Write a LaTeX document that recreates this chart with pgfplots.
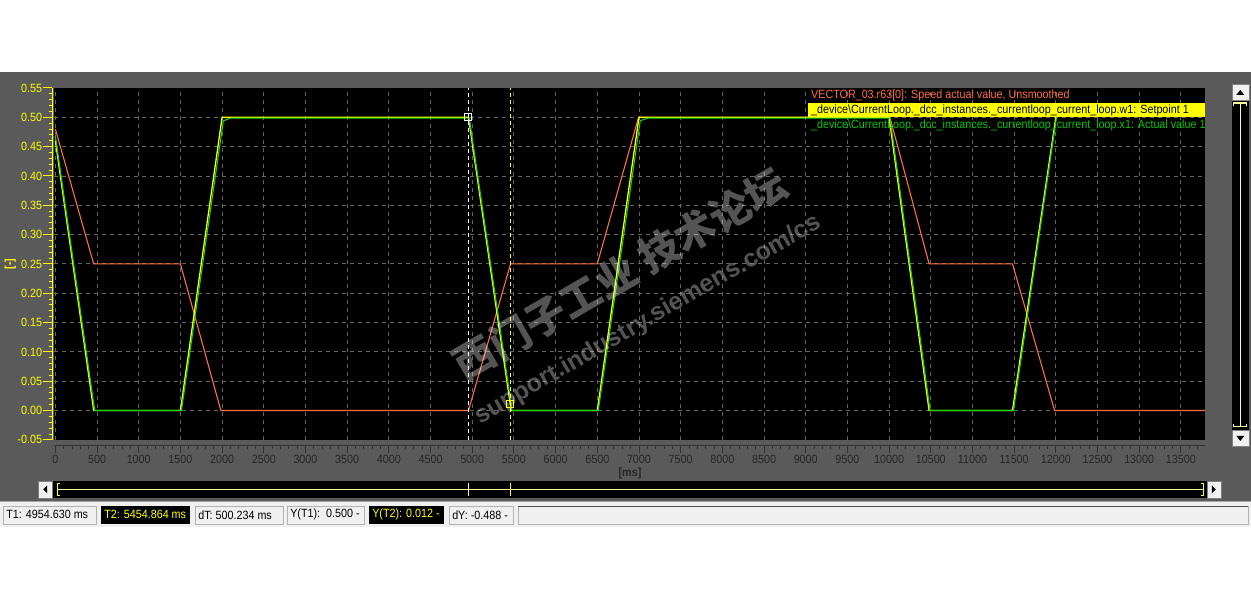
\documentclass[border=0pt]{standalone}
\usepackage{fontspec}
\setmainfont{Liberation Sans}
\newfontfamily\uifont[FakeStretch=0.9]{Liberation Sans}
\newfontfamily\cjk{Noto Sans CJK SC}
\usepackage{pgfplots}
\pgfplotsset{compat=1.18}
\definecolor{panel}{RGB}{90,90,90}
\definecolor{sorange}{RGB}{255,110,64}
\definecolor{syellow}{RGB}{255,255,0}
\definecolor{sgreen}{RGB}{0,200,0}
\definecolor{lgreen}{RGB}{20,215,20}
\definecolor{gridc}{RGB}{100,100,100}
\definecolor{statusbg}{RGB}{240,240,240}
\definecolor{paley}{RGB}{255,255,150}
\newcommand{\ui}{\uifont\fontsize{12}{13}\selectfont}

\pgfplotstableread{
t v
0 0.48
460 0.25
1500 0.25
1985 0
4955 0
5460 0.25
6500 0.25
6995 0.5
10010 0.5
10480 0.25
11480 0.25
11985 0
13787 0
}\speedtab

\pgfplotstableread{
t v
0 0.46
460 0
1500 0
2000 0.5
4955 0.5
5467 0
6500 0
7000 0.5
10000 0.5
10480 0
11480 0
12000 0.5
}\setptab

\pgfplotstableread{
t v
0 0.468
472 0
1512 0
2015 0.494
2100 0.4985
4965 0.4985
5478 0
6512 0
7015 0.494
7100 0.4985
10012 0.4985
10492 0
11492 0
12008 0.5
}\acttab

\begin{document}
\begin{tikzpicture}
\begin{scope}[x=1bp,y=-1bp]
\useasboundingbox (0,0) rectangle (1251,599);
\fill[white] (0,0) rectangle (1251,599);
\fill[panel] (0,72) rectangle (1251,501);
\fill[statusbg] (0,501) rectangle (1251,527);
\end{scope}

\begin{axis}[
  at={(54bp,-440bp)}, anchor=south west,
  scale only axis, width=1151bp, height=352bp,
  xmin=-14, xmax=13787, ymin=-0.05, ymax=0.55,
  axis line style={draw=none},
  axis background/.style={fill=black},
  tick style={draw=none}, major tick length=0pt,
  xtick={0,500,...,13500},
  xticklabels={0,500,1000,1500,2000,2500,3000,3500,4000,4500,5000,5500,6000,6500,7000,7500,8000,8500,9000,9500,10000,10500,11000,11500,12000,12500,13000,13500},
  ytick={0,0.05,0.1,0.15,0.2,0.25,0.3,0.35,0.4,0.45,0.5},
  yticklabels={0.00,0.05,0.10,0.15,0.20,0.25,0.30,0.35,0.40,0.45,0.50},
  extra y ticks={-0.05,0.55},
  extra y tick labels={-0.05,0.55},
  extra y tick style={grid=none},
  grid=major,
  major grid style={draw=gridc, dash pattern=on 4bp off 4bp, line width=0.9bp},
  yticklabel style={font=\ui, text=syellow, anchor=east, inner sep=0pt, xshift=-12bp},
  xticklabel style={font=\ui, text=black!85, anchor=north, inner sep=0pt, yshift=-15bp},
]
\addplot[sorange, line width=1.1bp] table[x=t,y=v] {\speedtab};
\addplot[syellow, line width=1.3bp] table[x=t,y=v] {\setptab};
\addplot[lgreen, line width=1.1bp] table[x=t,y=v] {\acttab};
\addplot[white, line width=0.9bp, dash pattern=on 4bp off 3bp] coordinates {(4954.63,-0.05) (4954.63,0.55)};
\addplot[syellow, line width=0.9bp, dash pattern=on 4bp off 3bp] coordinates {(5454.864,-0.05) (5454.864,0.55)};
\addplot[white, only marks, mark=square, mark size=3.5bp, mark options={line width=0.9bp}] coordinates {(4954.63,0.5)};
\addplot[syellow, only marks, mark=square, mark size=3.5bp, mark options={line width=0.9bp}] coordinates {(5454.864,0.012)};
\end{axis}

\begin{scope}[x=1bp,y=-1bp]
% y axis
\draw[syellow, line width=1bp] (52,88) -- (52,440);
\foreach \i in {0,...,60} \draw[syellow, line width=1bp] (48.5,88+\i*5.8667) -- (52,88+\i*5.8667);
\foreach \i in {0,...,12} \draw[syellow, line width=1bp] (43,88+\i*29.333) -- (52,88+\i*29.333);
\node[rotate=90, text=syellow, font=\ui\bfseries] at (10,264) {[-]};
% x axis
\draw[black!80, line width=1bp] (54,446) -- (1205,446);
\foreach \i in {0,...,137} \draw[black!80, line width=1bp] (55.2+\i*8.34,446) -- (55.2+\i*8.34,449.5);
\foreach \i in {0,...,27} \draw[black!80, line width=1bp] (55.2+\i*41.7,446) -- (55.2+\i*41.7,453);
\node[font=\ui\bfseries, text=black!85] at (630,474) {[ms]};
% legend
\node[anchor=west, inner sep=0pt, text=sorange, font=\ui] at (811,95.5) {VECTOR\_03.r63[0]: Speed actual value, Unsmoothed};
\fill[syellow] (808,103) rectangle (1205,117);
\node[anchor=west, inner sep=0pt, text=black, font=\ui] at (811,110) {\_device\textbackslash CurrentLoop.\_dcc\_instances.\_currentloop\_current\_loop.w1: Setpoint 1};
\node[anchor=west, inner sep=0pt, text=sgreen, font=\ui] at (811,125) {\_device\textbackslash CurrentLoop.\_dcc\_instances.\_currentloop\_current\_loop.x1: Actual value 1};
% vertical scrollbar
\fill[black] (1232,84) rectangle (1249,446);
\fill[statusbg] (1232,84) rectangle (1249,100);
\draw[gray] (1232,84) rectangle (1249,100);
\fill[black] (1236.5,95) -- (1244.5,95) -- (1240.5,90) -- cycle;
\fill[statusbg] (1232,430) rectangle (1249,446);
\draw[gray] (1232,430) rectangle (1249,446);
\fill[black] (1236.5,436) -- (1244.5,436) -- (1240.5,441) -- cycle;
\draw[paley, line width=1.2bp] (1234,106) -- (1234,103) -- (1247,103) -- (1247,106);
\draw[paley, line width=1bp] (1240.5,103) -- (1240.5,427);
\draw[paley, line width=1.2bp] (1234,424) -- (1234,427) -- (1247,427) -- (1247,424);
% horizontal scrollbar
\fill[black] (52,481) rectangle (1207,498);
\fill[statusbg] (38,481) rectangle (52,498);
\draw[gray] (38,481) rectangle (52,498);
\fill[black] (47,485.5) -- (47,493.5) -- (43,489.5) -- cycle;
\fill[statusbg] (1207,481) rectangle (1221,498);
\draw[gray] (1207,481) rectangle (1221,498);
\fill[black] (1212,485.5) -- (1212,493.5) -- (1216,489.5) -- cycle;
\draw[paley, line width=1bp] (57,489.5) -- (1204,489.5);
\draw[syellow, line width=1.3bp] (60,483.5) -- (57.5,483.5) -- (57.5,496) -- (60,496);
\draw[syellow, line width=1.3bp] (1201,483.5) -- (1203.5,483.5) -- (1203.5,496) -- (1201,496);
\draw[white, line width=1bp] (468,483) -- (468,496);
\draw[syellow, line width=1bp] (510,483) -- (510,496);
% status bar
\draw[gray!70] (0,501.5) -- (1251,501.5);
\draw[gray!60, fill=statusbg] (3,506) rectangle (96,524);
\node[anchor=west, inner sep=0pt, font=\ui] at (6,515) {T1: 4954.630 ms};
\fill[black] (101,506) rectangle (190,524);
\node[anchor=west, inner sep=0pt, font=\ui, text=syellow] at (104,515) {T2: 5454.864 ms};
\draw[gray!60, fill=statusbg] (195,506) rectangle (283,524);
\node[anchor=west, inner sep=0pt, font=\ui] at (198,515) {dT: 500.234 ms};
\draw[gray!60, fill=statusbg] (287,506) rectangle (364,524);
\node[anchor=west, inner sep=0pt, font=\ui] at (290,515) {Y(T1):\ \ 0.500 -};
\fill[black] (369,506) rectangle (444,524);
\node[anchor=west, inner sep=0pt, font=\ui, text=syellow] at (372,515) {Y(T2): 0.012 -};
\draw[gray!60, fill=statusbg] (449,506) rectangle (513,524);
\node[anchor=west, inner sep=0pt, font=\ui] at (452,515) {dY: -0.488 -};
\draw[gray!60, fill=statusbg] (518,506) rectangle (1248,524);
\draw[black!70] (518,506.5) -- (1248,506.5);
% watermark
\node[rotate=30, text=white, opacity=0.33, font=\cjk\bfseries\fontsize{41}{41}\selectfont] at (620,274) {西门子工业\ 技术论坛};
\node[rotate=30, text=white, opacity=0.33, font=\bfseries\fontsize{25}{25}\selectfont] at (648,320) {support.industry.siemens.com/cs};
\end{scope}
\end{tikzpicture}
\end{document}
